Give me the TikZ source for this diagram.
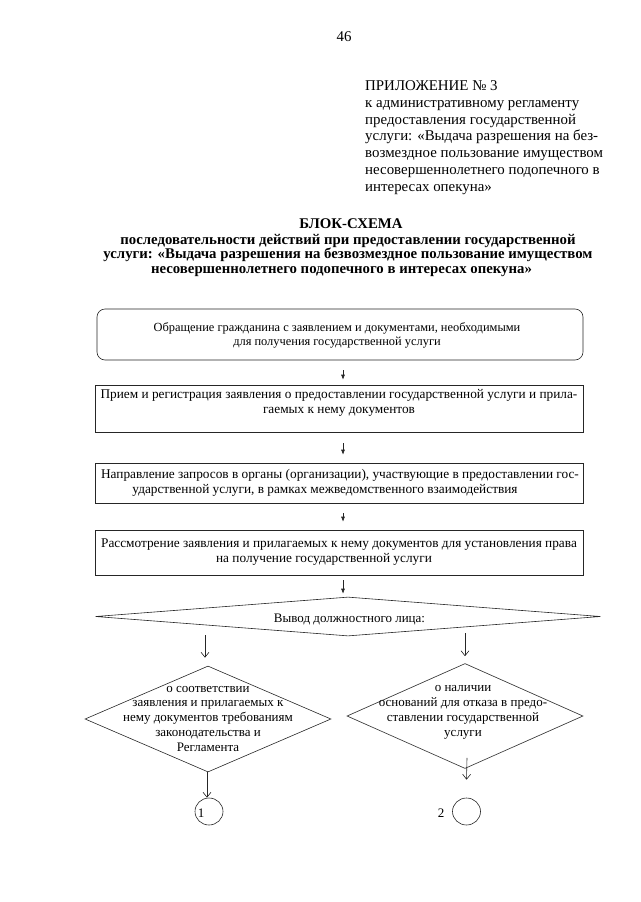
\documentclass[tikz,border=0pt]{standalone}
\usepackage{fontspec}
\setmainfont{Liberation Serif}
\usetikzlibrary{shapes.geometric,arrows.meta}
\begin{document}
\begin{tikzpicture}[x=1pt,y=-1pt,
  box/.style={draw=black!85, line width=0.6pt, inner sep=0pt, minimum width=488pt},
  dia/.style={draw=black!85, line width=0.6pt, diamond, inner sep=0pt},
  circ/.style={draw=black!85, line width=0.6pt, ellipse, inner sep=0pt, minimum width=28pt, minimum height=27pt},
  btext/.style={inner sep=0pt, align=center, font=\fontsize{13.3}{14.5}\selectfont},
  dtext/.style={inner sep=0pt, align=center, font=\fontsize{13}{14.7}\selectfont},
  farrow/.style={line width=0.6pt, draw=black!85, -{Latex[length=5pt,width=4pt]}},
  oarrow/.style={line width=0.6pt, draw=black!85, -{Straight Barb[length=5pt,width=8pt]}},
]
\useasboundingbox (0,0) rectangle (640,902);

% page number
\node[inner sep=0pt, anchor=base, font=\fontsize{14.9}{16}\selectfont] (pg) at (344,41) {46};

% appendix header
\node[inner sep=0pt, anchor=base west, align=left, font=\fontsize{14.9}{16.7}\selectfont] (app) at (365,191)
 {ПРИЛОЖЕНИЕ № 3\\к административному регламенту\\предоставления государственной\\услуги: «Выдача разрешения на без-\\возмездное пользование имуществом\\несовершеннолетнего подопечного в\\интересах опекуна»};

% title
\node[inner sep=0pt, anchor=base, font=\fontsize{14.8}{15}\selectfont\bfseries] (title) at (351,228) {БЛОК-СХЕМА};
\node[inner sep=0pt, anchor=base, align=center, font=\fontsize{14.8}{14.5}\selectfont\bfseries] (subtitle) at (348,273)
 {последовательности действий при предоставлении государственной\\услуги: «Выдача разрешения на безвозмездное пользование имуществом\\несовершеннолетнего подопечного в интересах опекуна»\hspace*{13pt}};

% boxes
\node[box, rounded corners=8pt, minimum width=486pt, minimum height=51pt] (b1) at (340,334.5) {};
\node[box, minimum height=47pt] (b2) at (339,408.5) {};
\node[box, minimum height=40pt] (b3) at (339,483) {};
\node[box, minimum height=45pt] (b4) at (339,552.5) {};

\node[btext, anchor=base, font=\fontsize{12.4}{13.5}\selectfont] (t1) at (337,345) {Обращение гражданина с заявлением и документами, необходимыми\\для получения государственной услуги};
\node[btext, anchor=base] (t2) at (339,413) {Прием и регистрация заявления о предоставлении государственной услуги и прила-\\гаемых к нему документов};
\node[btext, anchor=base] (t3) at (340,493) {Направление запросов в органы (организации), участвующие в предоставлении гос-\\ударственной услуги, в рамках межведомственного взаимодействия\hspace*{30pt}};
\node[btext, anchor=base] (t4) at (339,562) {Рассмотрение заявления и прилагаемых к нему документов для установления права\\на получение государственной услуги\hspace*{30pt}};

% decision diamonds
\node[dia, minimum width=505pt, minimum height=39pt] (d0) at (348,616.5) {};
\node[dtext, anchor=base] (t0) at (349.5,622) {Вывод должностного лица:};

\node[dia, minimum width=246pt, minimum height=106pt] (dl) at (208,719) {};
\node[dtext, anchor=base] (tl) at (208,751) {о соответствии\\заявления и прилагаемых к\\нему документов требованиям\\законодательства и\\Регламента};

\node[dia, minimum width=236pt, minimum height=105pt] (dr) at (465,716) {};
\node[dtext, anchor=base, font=\fontsize{13}{15}\selectfont] (tr) at (463,736) {о наличии\\оснований для отказа в предо-\\ставлении государственной\\услуги};

% connectors (circles)
\node[circ] (c1) at (209,811.5) {};
\node[circ] (c2) at (466.5,811.5) {};
\node[inner sep=0pt, anchor=base, font=\fontsize{13}{14}\selectfont] (n1) at (201,817) {1};
\node[inner sep=0pt, anchor=base, font=\fontsize{13}{14}\selectfont] (n2) at (441,817) {2};

% arrows
\draw[farrow] ([xshift=3pt,yshift=-10pt]b1.south) -- ([xshift=4pt,yshift=5pt]b2.north);
\draw[farrow] ([xshift=4pt,yshift=-11pt]b2.south) -- ([xshift=4pt,yshift=8pt]b3.north);
\draw[farrow] ([xshift=4pt,yshift=-10pt]b3.south) -- ([xshift=4pt,yshift=8pt]b4.north);
\draw[farrow] ([xshift=4pt,yshift=-5pt]b4.south) -- ([xshift=-5pt,yshift=3pt]d0.north);

\coordinate (lb) at (205,635);
\coordinate (rb) at (465,633);
\draw[oarrow] (lb) -- ([xshift=-3pt,yshift=8pt]dl.north);
\draw[oarrow] (rb) -- ([yshift=7pt]dr.north);
\draw[oarrow] ([xshift=-1pt]dl.south) -- ([xshift=-2pt]c1.north);
\draw[oarrow] ([xshift=2pt,yshift=11pt]dr.south) -- ([yshift=18pt]c2.north);
\end{tikzpicture}
\end{document}
